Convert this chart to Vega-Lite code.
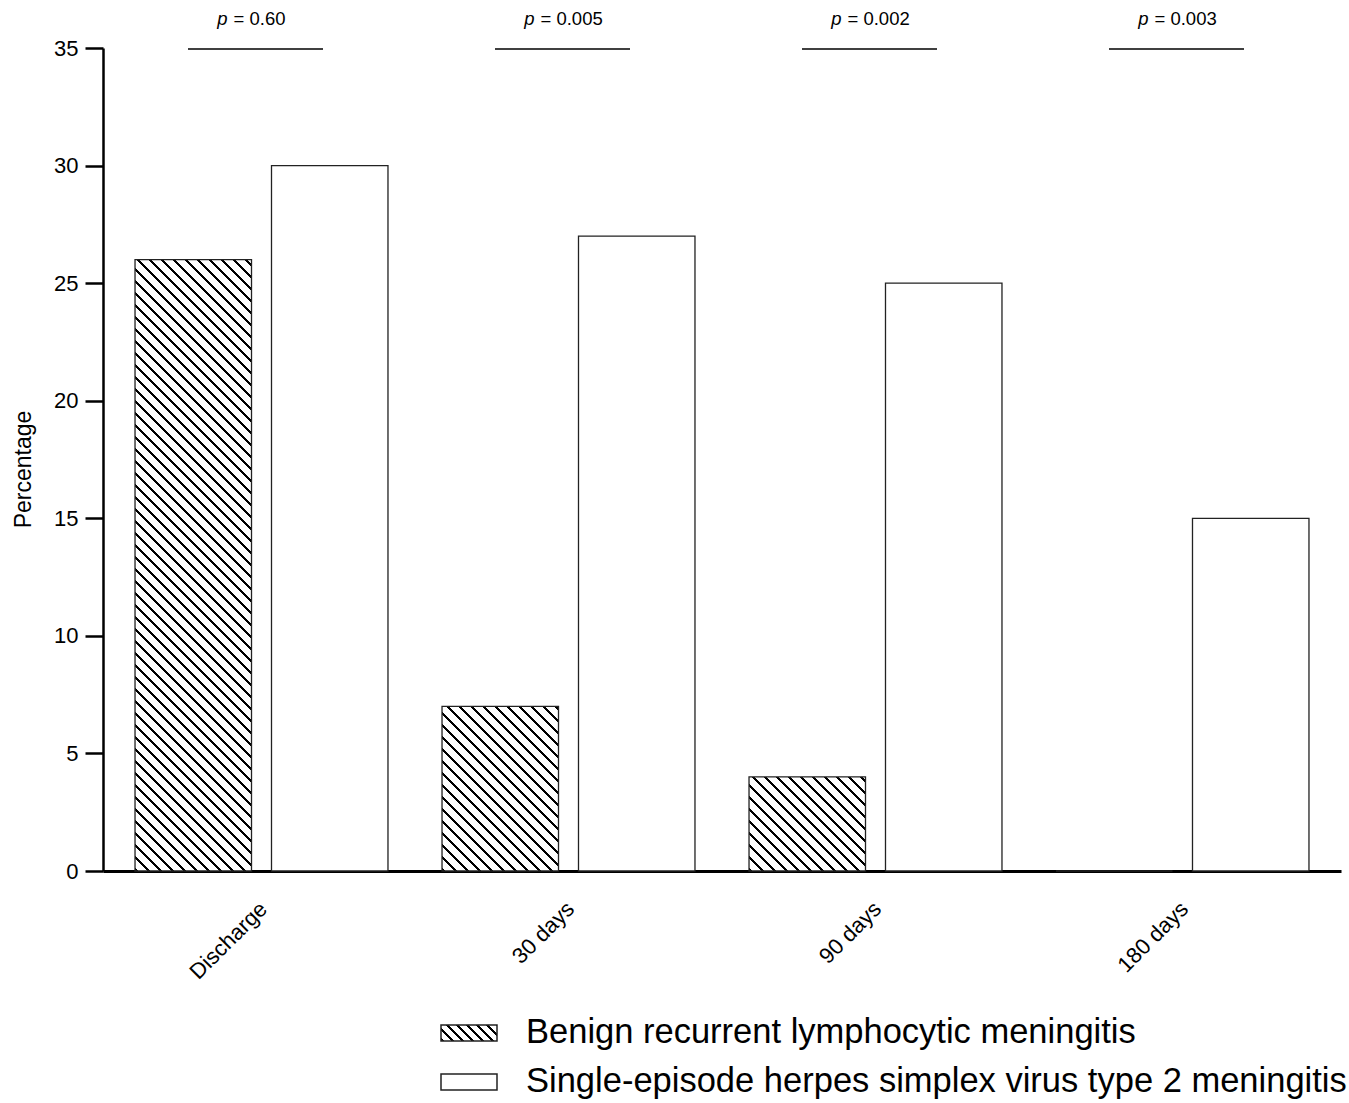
{
  "$schema": "https://vega.github.io/schema/vega-lite/v6.json",
  "autosize": "none",
  "padding": {"left": 103, "top": 48, "right": 8, "bottom": 232},
  "width": 1238,
  "height": 823,
  "background": "white",
  "config": {"font": "Liberation Sans", "view": {"stroke": null}},
  "datasets": {
    "bars": [
      {"time": "Discharge", "group": "Benign recurrent lymphocytic meningitis", "pct": 26},
      {"time": "Discharge", "group": "Single-episode herpes simplex virus type 2 meningitis", "pct": 30},
      {"time": "30 days", "group": "Benign recurrent lymphocytic meningitis", "pct": 7},
      {"time": "30 days", "group": "Single-episode herpes simplex virus type 2 meningitis", "pct": 27},
      {"time": "90 days", "group": "Benign recurrent lymphocytic meningitis", "pct": 4},
      {"time": "90 days", "group": "Single-episode herpes simplex virus type 2 meningitis", "pct": 25},
      {"time": "180 days", "group": "Benign recurrent lymphocytic meningitis", "pct": 0},
      {"time": "180 days", "group": "Single-episode herpes simplex virus type 2 meningitis", "pct": 15}
    ],
    "pvals": [
      {"time": "Discharge", "label": "= 0.60"},
      {"time": "30 days", "label": "= 0.005"},
      {"time": "90 days", "label": "= 0.002"},
      {"time": "180 days", "label": "= 0.003"}
    ]
  },
  "layer": [
    {
      "data": {"name": "bars"},
      "mark": {"type": "bar", "strokeWidth": 1.3},
      "encoding": {
        "x": {
          "field": "time", "type": "nominal",
          "scale": {"domain": ["Discharge", "30 days", "90 days", "180 days"], "paddingInner": 0, "paddingOuter": 0.0163},
          "axis": {
            "title": null, "ticks": false, "tickSize": 0, "labelAngle": -45, "labelFontSize": 22,
            "labelColor": "#000", "labelPadding": 27, "labelOffset": -5, "domainColor": "#000", "domainWidth": 3, "grid": false
          }
        },
        "xOffset": {
          "field": "group", "type": "nominal",
          "scale": {"domain": ["Benign recurrent lymphocytic meningitis", "Single-episode herpes simplex virus type 2 meningitis"], "paddingInner": 0.1465, "paddingOuter": 0.198}
        },
        "y": {
          "field": "pct", "type": "quantitative",
          "scale": {"domain": [0, 35], "nice": false, "zero": true},
          "axis": {
            "title": "Percentage", "titleFontSize": 23, "titleFontWeight": "normal", "titleColor": "#000",
            "titleX": -68, "titleY": 421,
            "values": [0, 5, 10, 15, 20, 25, 30, 35], "grid": false,
            "domainColor": "#000", "domainWidth": 2.5, "tickColor": "#000", "tickWidth": 2.5, "tickSize": 18,
            "labelFontSize": 22, "labelColor": "#000", "labelPadding": 7
          }
        },
        "stroke": {
          "field": "group", "type": "nominal",
          "scale": {
            "domain": ["Benign recurrent lymphocytic meningitis", "Single-episode herpes simplex virus type 2 meningitis"],
            "range": ["#222222", "#222222"]
          },
          "legend": {
            "title": null, "orient": "none", "legendX": 345, "legendY": 964, "direction": "vertical",
            "symbolType": "M-1.4,-0.4H1.4V0.4H-1.4Z", "symbolSize": 1600, "symbolStrokeWidth": 1.5,
            "labelFontSize": 34.5, "labelColor": "#000", "labelOffset": 36, "labelLimit": 2000,
            "rowPadding": 11, "padding": 0,
            "encoding": {
              "symbols": {
                "fill": {
                  "condition": {"test": "datum.value === 'Benign recurrent lymphocytic meningitis'", "value": {"gradient": "linear", "x1": 0, "y1": 1, "x2": 1.1887, "y2": 0.6604, "stops": [
                    {"offset":0,"color":"#000"},{"offset":0.042,"color":"#000"},{"offset":0.042,"color":"#fff"},{"offset":0.14,"color":"#fff"},
                    {"offset":0.14,"color":"#000"},{"offset":0.182,"color":"#000"},{"offset":0.182,"color":"#fff"},{"offset":0.28,"color":"#fff"},
                    {"offset":0.28,"color":"#000"},{"offset":0.322,"color":"#000"},{"offset":0.322,"color":"#fff"},{"offset":0.42,"color":"#fff"},
                    {"offset":0.42,"color":"#000"},{"offset":0.462,"color":"#000"},{"offset":0.462,"color":"#fff"},{"offset":0.56,"color":"#fff"},
                    {"offset":0.56,"color":"#000"},{"offset":0.602,"color":"#000"},{"offset":0.602,"color":"#fff"},{"offset":0.7,"color":"#fff"},
                    {"offset":0.7,"color":"#000"},{"offset":0.742,"color":"#000"},{"offset":0.742,"color":"#fff"},{"offset":0.84,"color":"#fff"},
                    {"offset":0.84,"color":"#000"},{"offset":0.882,"color":"#000"},{"offset":0.882,"color":"#fff"},{"offset":0.98,"color":"#fff"},
                    {"offset":0.98,"color":"#000"},{"offset":1,"color":"#000"}
                  ]}},
                  "value": "#ffffff"
                }
              }
            }
          }
        },
        "fill": {
          "condition": [
            {"test": "datum.group === 'Benign recurrent lymphocytic meningitis' && datum.time === 'Discharge'", "value": {"gradient": "linear", "x1": 0, "y1": 1, "x2": 0.2189, "y2": -0.1488, "stops": [
              {"offset":0,"color":"#000"},{"offset":0.0045,"color":"#000"},{"offset":0.0045,"color":"#fff"},{"offset":0.0165,"color":"#fff"},
              {"offset":0.0165,"color":"#000"},{"offset":0.021,"color":"#000"},{"offset":0.021,"color":"#fff"},{"offset":0.033,"color":"#fff"},
              {"offset":0.033,"color":"#000"},{"offset":0.0375,"color":"#000"},{"offset":0.0375,"color":"#fff"},{"offset":0.0495,"color":"#fff"},
              {"offset":0.0495,"color":"#000"},{"offset":0.054,"color":"#000"},{"offset":0.054,"color":"#fff"},{"offset":0.066,"color":"#fff"},
              {"offset":0.066,"color":"#000"},{"offset":0.0705,"color":"#000"},{"offset":0.0705,"color":"#fff"},{"offset":0.0825,"color":"#fff"},
              {"offset":0.0825,"color":"#000"},{"offset":0.087,"color":"#000"},{"offset":0.087,"color":"#fff"},{"offset":0.099,"color":"#fff"},
              {"offset":0.099,"color":"#000"},{"offset":0.1035,"color":"#000"},{"offset":0.1035,"color":"#fff"},{"offset":0.1155,"color":"#fff"},
              {"offset":0.1155,"color":"#000"},{"offset":0.12,"color":"#000"},{"offset":0.12,"color":"#fff"},{"offset":0.132,"color":"#fff"},
              {"offset":0.132,"color":"#000"},{"offset":0.1365,"color":"#000"},{"offset":0.1365,"color":"#fff"},{"offset":0.1485,"color":"#fff"},
              {"offset":0.1485,"color":"#000"},{"offset":0.153,"color":"#000"},{"offset":0.153,"color":"#fff"},{"offset":0.165,"color":"#fff"},
              {"offset":0.165,"color":"#000"},{"offset":0.1695,"color":"#000"},{"offset":0.1695,"color":"#fff"},{"offset":0.1815,"color":"#fff"},
              {"offset":0.1815,"color":"#000"},{"offset":0.186,"color":"#000"},{"offset":0.186,"color":"#fff"},{"offset":0.198,"color":"#fff"},
              {"offset":0.198,"color":"#000"},{"offset":0.2025,"color":"#000"},{"offset":0.2025,"color":"#fff"},{"offset":0.2145,"color":"#fff"},
              {"offset":0.2145,"color":"#000"},{"offset":0.219,"color":"#000"},{"offset":0.219,"color":"#fff"},{"offset":0.231,"color":"#fff"},
              {"offset":0.231,"color":"#000"},{"offset":0.2355,"color":"#000"},{"offset":0.2355,"color":"#fff"},{"offset":0.2475,"color":"#fff"},
              {"offset":0.2475,"color":"#000"},{"offset":0.252,"color":"#000"},{"offset":0.252,"color":"#fff"},{"offset":0.264,"color":"#fff"},
              {"offset":0.264,"color":"#000"},{"offset":0.2685,"color":"#000"},{"offset":0.2685,"color":"#fff"},{"offset":0.2805,"color":"#fff"},
              {"offset":0.2805,"color":"#000"},{"offset":0.285,"color":"#000"},{"offset":0.285,"color":"#fff"},{"offset":0.297,"color":"#fff"},
              {"offset":0.297,"color":"#000"},{"offset":0.3015,"color":"#000"},{"offset":0.3015,"color":"#fff"},{"offset":0.3135,"color":"#fff"},
              {"offset":0.3135,"color":"#000"},{"offset":0.318,"color":"#000"},{"offset":0.318,"color":"#fff"},{"offset":0.33,"color":"#fff"},
              {"offset":0.33,"color":"#000"},{"offset":0.3345,"color":"#000"},{"offset":0.3345,"color":"#fff"},{"offset":0.3465,"color":"#fff"},
              {"offset":0.3465,"color":"#000"},{"offset":0.351,"color":"#000"},{"offset":0.351,"color":"#fff"},{"offset":0.363,"color":"#fff"},
              {"offset":0.363,"color":"#000"},{"offset":0.3675,"color":"#000"},{"offset":0.3675,"color":"#fff"},{"offset":0.3795,"color":"#fff"},
              {"offset":0.3795,"color":"#000"},{"offset":0.384,"color":"#000"},{"offset":0.384,"color":"#fff"},{"offset":0.396,"color":"#fff"},
              {"offset":0.396,"color":"#000"},{"offset":0.4005,"color":"#000"},{"offset":0.4005,"color":"#fff"},{"offset":0.4125,"color":"#fff"},
              {"offset":0.4125,"color":"#000"},{"offset":0.417,"color":"#000"},{"offset":0.417,"color":"#fff"},{"offset":0.429,"color":"#fff"},
              {"offset":0.429,"color":"#000"},{"offset":0.4335,"color":"#000"},{"offset":0.4335,"color":"#fff"},{"offset":0.4455,"color":"#fff"},
              {"offset":0.4455,"color":"#000"},{"offset":0.45,"color":"#000"},{"offset":0.45,"color":"#fff"},{"offset":0.462,"color":"#fff"},
              {"offset":0.462,"color":"#000"},{"offset":0.4665,"color":"#000"},{"offset":0.4665,"color":"#fff"},{"offset":0.4785,"color":"#fff"},
              {"offset":0.4785,"color":"#000"},{"offset":0.483,"color":"#000"},{"offset":0.483,"color":"#fff"},{"offset":0.495,"color":"#fff"},
              {"offset":0.495,"color":"#000"},{"offset":0.4995,"color":"#000"},{"offset":0.4995,"color":"#fff"},{"offset":0.5115,"color":"#fff"},
              {"offset":0.5115,"color":"#000"},{"offset":0.516,"color":"#000"},{"offset":0.516,"color":"#fff"},{"offset":0.528,"color":"#fff"},
              {"offset":0.528,"color":"#000"},{"offset":0.5325,"color":"#000"},{"offset":0.5325,"color":"#fff"},{"offset":0.5445,"color":"#fff"},
              {"offset":0.5445,"color":"#000"},{"offset":0.549,"color":"#000"},{"offset":0.549,"color":"#fff"},{"offset":0.561,"color":"#fff"},
              {"offset":0.561,"color":"#000"},{"offset":0.5655,"color":"#000"},{"offset":0.5655,"color":"#fff"},{"offset":0.5775,"color":"#fff"},
              {"offset":0.5775,"color":"#000"},{"offset":0.582,"color":"#000"},{"offset":0.582,"color":"#fff"},{"offset":0.594,"color":"#fff"},
              {"offset":0.594,"color":"#000"},{"offset":0.5985,"color":"#000"},{"offset":0.5985,"color":"#fff"},{"offset":0.6105,"color":"#fff"},
              {"offset":0.6105,"color":"#000"},{"offset":0.615,"color":"#000"},{"offset":0.615,"color":"#fff"},{"offset":0.627,"color":"#fff"},
              {"offset":0.627,"color":"#000"},{"offset":0.6315,"color":"#000"},{"offset":0.6315,"color":"#fff"},{"offset":0.6435,"color":"#fff"},
              {"offset":0.6435,"color":"#000"},{"offset":0.648,"color":"#000"},{"offset":0.648,"color":"#fff"},{"offset":0.66,"color":"#fff"},
              {"offset":0.66,"color":"#000"},{"offset":0.6645,"color":"#000"},{"offset":0.6645,"color":"#fff"},{"offset":0.6765,"color":"#fff"},
              {"offset":0.6765,"color":"#000"},{"offset":0.681,"color":"#000"},{"offset":0.681,"color":"#fff"},{"offset":0.693,"color":"#fff"},
              {"offset":0.693,"color":"#000"},{"offset":0.6975,"color":"#000"},{"offset":0.6975,"color":"#fff"},{"offset":0.7095,"color":"#fff"},
              {"offset":0.7095,"color":"#000"},{"offset":0.714,"color":"#000"},{"offset":0.714,"color":"#fff"},{"offset":0.726,"color":"#fff"},
              {"offset":0.726,"color":"#000"},{"offset":0.7305,"color":"#000"},{"offset":0.7305,"color":"#fff"},{"offset":0.7425,"color":"#fff"},
              {"offset":0.7425,"color":"#000"},{"offset":0.747,"color":"#000"},{"offset":0.747,"color":"#fff"},{"offset":0.759,"color":"#fff"},
              {"offset":0.759,"color":"#000"},{"offset":0.7635,"color":"#000"},{"offset":0.7635,"color":"#fff"},{"offset":0.7755,"color":"#fff"},
              {"offset":0.7755,"color":"#000"},{"offset":0.78,"color":"#000"},{"offset":0.78,"color":"#fff"},{"offset":0.792,"color":"#fff"},
              {"offset":0.792,"color":"#000"},{"offset":0.7965,"color":"#000"},{"offset":0.7965,"color":"#fff"},{"offset":0.8085,"color":"#fff"},
              {"offset":0.8085,"color":"#000"},{"offset":0.813,"color":"#000"},{"offset":0.813,"color":"#fff"},{"offset":0.825,"color":"#fff"},
              {"offset":0.825,"color":"#000"},{"offset":0.8295,"color":"#000"},{"offset":0.8295,"color":"#fff"},{"offset":0.8415,"color":"#fff"},
              {"offset":0.8415,"color":"#000"},{"offset":0.846,"color":"#000"},{"offset":0.846,"color":"#fff"},{"offset":0.858,"color":"#fff"},
              {"offset":0.858,"color":"#000"},{"offset":0.8625,"color":"#000"},{"offset":0.8625,"color":"#fff"},{"offset":0.8745,"color":"#fff"},
              {"offset":0.8745,"color":"#000"},{"offset":0.879,"color":"#000"},{"offset":0.879,"color":"#fff"},{"offset":0.891,"color":"#fff"},
              {"offset":0.891,"color":"#000"},{"offset":0.8955,"color":"#000"},{"offset":0.8955,"color":"#fff"},{"offset":0.9075,"color":"#fff"},
              {"offset":0.9075,"color":"#000"},{"offset":0.912,"color":"#000"},{"offset":0.912,"color":"#fff"},{"offset":0.924,"color":"#fff"},
              {"offset":0.924,"color":"#000"},{"offset":0.9285,"color":"#000"},{"offset":0.9285,"color":"#fff"},{"offset":0.9405,"color":"#fff"},
              {"offset":0.9405,"color":"#000"},{"offset":0.945,"color":"#000"},{"offset":0.945,"color":"#fff"},{"offset":0.957,"color":"#fff"},
              {"offset":0.957,"color":"#000"},{"offset":0.9615,"color":"#000"},{"offset":0.9615,"color":"#fff"},{"offset":0.9735,"color":"#fff"},
              {"offset":0.9735,"color":"#000"},{"offset":0.978,"color":"#000"},{"offset":0.978,"color":"#fff"},{"offset":0.99,"color":"#fff"},
              {"offset":0.99,"color":"#000"},{"offset":0.9945,"color":"#000"},{"offset":0.9945,"color":"#fff"},{"offset":1,"color":"#fff"}
            ]}},
            {"test": "datum.group === 'Benign recurrent lymphocytic meningitis' && datum.time === '30 days'", "value": {"gradient": "linear", "x1": 0, "y1": 1, "x2": 0.8053, "y2": -0.1378, "stops": [
              {"offset":0,"color":"#000"},{"offset":0.0114,"color":"#000"},{"offset":0.0114,"color":"#fff"},{"offset":0.0427,"color":"#fff"},
              {"offset":0.0427,"color":"#000"},{"offset":0.0541,"color":"#000"},{"offset":0.0541,"color":"#fff"},{"offset":0.0854,"color":"#fff"},
              {"offset":0.0854,"color":"#000"},{"offset":0.0968,"color":"#000"},{"offset":0.0968,"color":"#fff"},{"offset":0.1281,"color":"#fff"},
              {"offset":0.1281,"color":"#000"},{"offset":0.1395,"color":"#000"},{"offset":0.1395,"color":"#fff"},{"offset":0.1708,"color":"#fff"},
              {"offset":0.1708,"color":"#000"},{"offset":0.1822,"color":"#000"},{"offset":0.1822,"color":"#fff"},{"offset":0.2135,"color":"#fff"},
              {"offset":0.2135,"color":"#000"},{"offset":0.2249,"color":"#000"},{"offset":0.2249,"color":"#fff"},{"offset":0.2562,"color":"#fff"},
              {"offset":0.2562,"color":"#000"},{"offset":0.2676,"color":"#000"},{"offset":0.2676,"color":"#fff"},{"offset":0.2989,"color":"#fff"},
              {"offset":0.2989,"color":"#000"},{"offset":0.3103,"color":"#000"},{"offset":0.3103,"color":"#fff"},{"offset":0.3416,"color":"#fff"},
              {"offset":0.3416,"color":"#000"},{"offset":0.353,"color":"#000"},{"offset":0.353,"color":"#fff"},{"offset":0.3843,"color":"#fff"},
              {"offset":0.3843,"color":"#000"},{"offset":0.3957,"color":"#000"},{"offset":0.3957,"color":"#fff"},{"offset":0.427,"color":"#fff"},
              {"offset":0.427,"color":"#000"},{"offset":0.4384,"color":"#000"},{"offset":0.4384,"color":"#fff"},{"offset":0.4697,"color":"#fff"},
              {"offset":0.4697,"color":"#000"},{"offset":0.4811,"color":"#000"},{"offset":0.4811,"color":"#fff"},{"offset":0.5124,"color":"#fff"},
              {"offset":0.5124,"color":"#000"},{"offset":0.5238,"color":"#000"},{"offset":0.5238,"color":"#fff"},{"offset":0.5551,"color":"#fff"},
              {"offset":0.5551,"color":"#000"},{"offset":0.5665,"color":"#000"},{"offset":0.5665,"color":"#fff"},{"offset":0.5978,"color":"#fff"},
              {"offset":0.5978,"color":"#000"},{"offset":0.6092,"color":"#000"},{"offset":0.6092,"color":"#fff"},{"offset":0.6405,"color":"#fff"},
              {"offset":0.6405,"color":"#000"},{"offset":0.6519,"color":"#000"},{"offset":0.6519,"color":"#fff"},{"offset":0.6832,"color":"#fff"},
              {"offset":0.6832,"color":"#000"},{"offset":0.6946,"color":"#000"},{"offset":0.6946,"color":"#fff"},{"offset":0.7259,"color":"#fff"},
              {"offset":0.7259,"color":"#000"},{"offset":0.7373,"color":"#000"},{"offset":0.7373,"color":"#fff"},{"offset":0.7686,"color":"#fff"},
              {"offset":0.7686,"color":"#000"},{"offset":0.78,"color":"#000"},{"offset":0.78,"color":"#fff"},{"offset":0.8113,"color":"#fff"},
              {"offset":0.8113,"color":"#000"},{"offset":0.8227,"color":"#000"},{"offset":0.8227,"color":"#fff"},{"offset":0.854,"color":"#fff"},
              {"offset":0.854,"color":"#000"},{"offset":0.8654,"color":"#000"},{"offset":0.8654,"color":"#fff"},{"offset":0.8967,"color":"#fff"},
              {"offset":0.8967,"color":"#000"},{"offset":0.9081,"color":"#000"},{"offset":0.9081,"color":"#fff"},{"offset":0.9394,"color":"#fff"},
              {"offset":0.9394,"color":"#000"},{"offset":0.9508,"color":"#000"},{"offset":0.9508,"color":"#fff"},{"offset":0.9821,"color":"#fff"},
              {"offset":0.9821,"color":"#000"},{"offset":0.9935,"color":"#000"},{"offset":0.9935,"color":"#fff"},{"offset":1,"color":"#fff"}
            ]}},
            {"test": "datum.group === 'Benign recurrent lymphocytic meningitis' && datum.time === '90 days'", "value": {"gradient": "linear", "x1": 0, "y1": 1, "x2": 1.0942, "y2": 0.1166, "stops": [
              {"offset":0,"color":"#000"},{"offset":0.0152,"color":"#000"},{"offset":0.0152,"color":"#fff"},{"offset":0.057,"color":"#fff"},
              {"offset":0.057,"color":"#000"},{"offset":0.0722,"color":"#000"},{"offset":0.0722,"color":"#fff"},{"offset":0.114,"color":"#fff"},
              {"offset":0.114,"color":"#000"},{"offset":0.1292,"color":"#000"},{"offset":0.1292,"color":"#fff"},{"offset":0.171,"color":"#fff"},
              {"offset":0.171,"color":"#000"},{"offset":0.1862,"color":"#000"},{"offset":0.1862,"color":"#fff"},{"offset":0.228,"color":"#fff"},
              {"offset":0.228,"color":"#000"},{"offset":0.2432,"color":"#000"},{"offset":0.2432,"color":"#fff"},{"offset":0.285,"color":"#fff"},
              {"offset":0.285,"color":"#000"},{"offset":0.3002,"color":"#000"},{"offset":0.3002,"color":"#fff"},{"offset":0.342,"color":"#fff"},
              {"offset":0.342,"color":"#000"},{"offset":0.3572,"color":"#000"},{"offset":0.3572,"color":"#fff"},{"offset":0.399,"color":"#fff"},
              {"offset":0.399,"color":"#000"},{"offset":0.4142,"color":"#000"},{"offset":0.4142,"color":"#fff"},{"offset":0.456,"color":"#fff"},
              {"offset":0.456,"color":"#000"},{"offset":0.4712,"color":"#000"},{"offset":0.4712,"color":"#fff"},{"offset":0.513,"color":"#fff"},
              {"offset":0.513,"color":"#000"},{"offset":0.5282,"color":"#000"},{"offset":0.5282,"color":"#fff"},{"offset":0.57,"color":"#fff"},
              {"offset":0.57,"color":"#000"},{"offset":0.5852,"color":"#000"},{"offset":0.5852,"color":"#fff"},{"offset":0.627,"color":"#fff"},
              {"offset":0.627,"color":"#000"},{"offset":0.6422,"color":"#000"},{"offset":0.6422,"color":"#fff"},{"offset":0.684,"color":"#fff"},
              {"offset":0.684,"color":"#000"},{"offset":0.6992,"color":"#000"},{"offset":0.6992,"color":"#fff"},{"offset":0.741,"color":"#fff"},
              {"offset":0.741,"color":"#000"},{"offset":0.7562,"color":"#000"},{"offset":0.7562,"color":"#fff"},{"offset":0.798,"color":"#fff"},
              {"offset":0.798,"color":"#000"},{"offset":0.8132,"color":"#000"},{"offset":0.8132,"color":"#fff"},{"offset":0.855,"color":"#fff"},
              {"offset":0.855,"color":"#000"},{"offset":0.8702,"color":"#000"},{"offset":0.8702,"color":"#fff"},{"offset":0.912,"color":"#fff"},
              {"offset":0.912,"color":"#000"},{"offset":0.9272,"color":"#000"},{"offset":0.9272,"color":"#fff"},{"offset":0.969,"color":"#fff"},
              {"offset":0.969,"color":"#000"},{"offset":0.9842,"color":"#000"},{"offset":0.9842,"color":"#fff"},{"offset":1,"color":"#fff"}
            ]}}
          ],
          "value": "#ffffff"
        }
      }
    },
    {
      "data": {"name": "pvals"},
      "mark": {"type": "tick", "size": 135, "thickness": 1.3, "color": "#000", "opacity": 1, "xOffset": -6, "yOffset": 1},
      "encoding": {
        "x": {"field": "time", "type": "nominal"},
        "y": {"datum": 35, "type": "quantitative"}
      }
    },
    {
      "data": {"name": "pvals"},
      "mark": {"type": "text", "text": "p", "fontStyle": "italic", "fontSize": 18.5, "color": "#000", "align": "right", "baseline": "alphabetic", "dx": -34, "dy": -23},
      "encoding": {
        "x": {"field": "time", "type": "nominal"},
        "y": {"datum": 35, "type": "quantitative"}
      }
    },
    {
      "data": {"name": "pvals"},
      "mark": {"type": "text", "fontSize": 18.5, "color": "#000", "align": "left", "baseline": "alphabetic", "dx": -28, "dy": -23},
      "encoding": {
        "x": {"field": "time", "type": "nominal"},
        "y": {"datum": 35, "type": "quantitative"},
        "text": {"field": "label", "type": "nominal"}
      }
    }
  ]
}
